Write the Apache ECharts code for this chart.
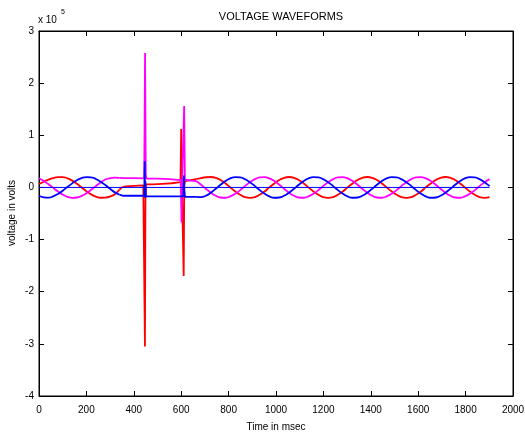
<!DOCTYPE html>
<html>
<head>
<meta charset="utf-8">
<script src="https://cdn.jsdelivr.net/npm/echarts@6/dist/echarts.min.js"></script>
<style>
html,body{margin:0;padding:0;background:#fff;}
#chart{width:525px;height:435px;}
</style>
</head>
<body>
<div id="chart"></div>
<script>
// ---- data (voltage in units of 1e5 V, time in msec) ----
var xTicks = [0,200,400,600,800,1000,1200,1400,1600,1800,2000];
var yTicks = [-4,-3,-2,-1,0,1,2,3];

// pre-fault sinusoidal part
var tPre = [0,20,40,60,80,100,120,140,160,180,200,220,240,260,280,300,320,340];
var redPre = [0.065,0.11,0.15,0.18,0.197,0.198,0.175,0.13,0.069,-0.002,-0.072,-0.133,-0.177,-0.198,-0.195,-0.175,-0.13,-0.04];
var bluePre = [-0.16,-0.19,-0.197,-0.171,-0.125,-0.062,0.009,0.078,0.138,0.18,0.199,0.193,0.162,0.11,0.045,-0.027,-0.095,-0.14];
var magPre = [0.175,0.125,0.062,-0.009,-0.078,-0.138,-0.18,-0.199,-0.193,-0.162,-0.11,-0.045,0.027,0.095,0.151,0.18,0.188,0.185];

// fault / switching transients  [time, value]
var redFault = [[340,-0.04],[350,0.0],[365,0.02],[400,0.03],[440,0.04],[445,0.04],[447,-3.05],[449,-0.3],[451,0.06],[480,0.06],[520,0.07],[560,0.08],[597,0.1],[600,1.12],[603,0.05],[605,0.05],[610.5,-1.7],[613,0.05],[617,0.12],[640,0.14],[663,0.16]];
var blueFault = [[340,-0.14],[355,-0.16],[400,-0.16],[444,-0.16],[446,0.5],[447.5,-0.2],[449,0.12],[451,-0.17],[500,-0.17],[598,-0.17],[609,-0.17],[611.5,0.23],[613,-0.05],[616,-0.18],[640,-0.18],[663,-0.18]];
var magFault = [[340,0.185],[360,0.18],[400,0.178],[444,0.175],[447.5,2.58],[450.5,0.25],[453,0.17],[500,0.17],[550,0.16],[598,0.14],[600,0.14],[601.5,-0.67],[604,0.1],[612.5,1.56],[615.5,0.15],[620,0.14],[640,0.13],[663,0.122]];

// post-fault sinusoidal part
var tPost = [663,684,704,725,746,766,787,807,828,849,869,890,911,931,952,972,993,1014,1034,1055,1076,1096,1117,1137,1158,1179,1199,1220,1241,1261,1282,1302,1323,1344,1364,1385,1406,1426,1447,1467,1488,1509,1529,1550,1571,1591,1612,1632,1653,1674,1694,1715,1736,1756,1777,1797,1818,1839,1859,1880,1901];
var redPost = [0.16,0.18,0.195,
  0.2,0.185,0.141,0.077,0,-0.077,-0.141,-0.185,-0.2,-0.185,-0.141,-0.077,0,0.077,0.141,0.185,
  0.2,0.185,0.141,0.077,0,-0.077,-0.141,-0.185,-0.2,-0.185,-0.141,-0.077,0,0.077,0.141,0.185,
  0.2,0.185,0.141,0.077,0,-0.077,-0.141,-0.185,-0.2,-0.185,-0.141,-0.077,0,0.077,0.141,0.185,
  0.2,0.185,0.141,0.077,0,-0.077,-0.141,-0.185,-0.2,-0.185];
var bluePost = [-0.18,-0.185,-0.159,
  -0.1,-0.026,0.052,0.122,0.173,0.198,0.193,0.159,0.1,0.026,-0.052,-0.122,-0.173,-0.198,-0.193,-0.159,
  -0.1,-0.026,0.052,0.122,0.173,0.198,0.193,0.159,0.1,0.026,-0.052,-0.122,-0.173,-0.198,-0.193,-0.159,
  -0.1,-0.026,0.052,0.122,0.173,0.198,0.193,0.159,0.1,0.026,-0.052,-0.122,-0.173,-0.198,-0.193,-0.159,
  -0.1,-0.026,0.052,0.122,0.173,0.198,0.193,0.159,0.1,0.026];
var magPost = [0.122,0.052,-0.026,
  -0.1,-0.159,-0.193,-0.198,-0.173,-0.122,-0.052,0.026,0.1,0.159,0.193,0.198,0.173,0.122,0.052,-0.026,
  -0.1,-0.159,-0.193,-0.198,-0.173,-0.122,-0.052,0.026,0.1,0.159,0.193,0.198,0.173,0.122,0.052,-0.026,
  -0.1,-0.159,-0.193,-0.198,-0.173,-0.122,-0.052,0.026,0.1,0.159,0.193,0.198,0.173,0.122,0.052,-0.026,
  -0.1,-0.159,-0.193,-0.198,-0.173,-0.122,-0.052,0.026,0.1,0.159];

var zeroLine = [[0,0],[1901,0]];

var RED = '#ff0000', BLUE = '#0000ff', MAG = '#ff00ff';
var FONT = 'Liberation Sans, Arial, Helvetica, sans-serif';

function zip(t, v){ return t.map(function(x,i){ return [x, v[i]]; }); }
function line(data, color, smooth, w){
  return {type:'line', data:data, showSymbol:false, symbol:'none', smooth:smooth,
    lineStyle:{color:color, width:w||1.8}, itemStyle:{color:color}, silent:true, animation:false, clip:true};
}

var chart = echarts.init(document.getElementById('chart'), null, {renderer:'canvas'});
var axisCommon = {
  axisLine:{show:true, onZero:false, lineStyle:{color:'#000', width:1}},
  axisTick:{show:true, inside:true, length:5, lineStyle:{color:'#000', width:1}},
  splitLine:{show:false}
};
function plain(v){ return String(v); }
var series = [
  line(zip(tPre, redPre), RED, 0.5),
  line(redFault, RED, false),
  line(zip(tPost, redPost), RED, 0.5),
  line(zip(tPre, magPre), MAG, 0.5),
  line(magFault, MAG, false),
  line(zip(tPost, magPost), MAG, 0.5),
  line(zip(tPre, bluePre), BLUE, 0.5),
  line(blueFault, BLUE, false),
  line(zip(tPost, bluePost), BLUE, 0.5),
  line(zeroLine, BLUE, false, 1),
  {type:'line', xAxisIndex:1, yAxisIndex:1, data:[], silent:true, showSymbol:false}
];
chart.setOption({
  animation:false,
  backgroundColor:'#fff',
  title:{text:'VOLTAGE WAVEFORMS', left:276, top:6, textAlign:'center',
    textStyle:{fontSize:11, fontWeight:'normal', color:'#000', fontFamily:FONT}},
  grid:{left:39, right:12, top:31, bottom:39, containLabel:false, outerBoundsMode:'none',
    show:true, borderColor:'#000', borderWidth:1, backgroundColor:'transparent'},
  xAxis:[
    Object.assign({type:'value', min:xTicks[0], max:xTicks[xTicks.length-1], interval:200, position:'bottom',
      axisLabel:{color:'#000', fontSize:10, margin:9, fontFamily:FONT, formatter:plain, hideOverlap:false, showMaxLabel:true, showMinLabel:true},
      name:'Time in msec', nameLocation:'middle', nameGap:26,
      nameTextStyle:{color:'#000', fontSize:10, fontFamily:FONT}}, axisCommon),
    Object.assign({type:'value', min:xTicks[0], max:xTicks[xTicks.length-1], interval:200, position:'top',
      axisLabel:{show:false}}, axisCommon)
  ],
  yAxis:[
    Object.assign({type:'value', min:yTicks[0], max:yTicks[yTicks.length-1], interval:1, position:'left',
      axisLabel:{color:'#000', fontSize:10, margin:5, fontFamily:FONT, formatter:plain}}, axisCommon),
    Object.assign({type:'value', min:yTicks[0], max:yTicks[yTicks.length-1], interval:1, position:'right',
      axisLabel:{show:false}}, axisCommon)
  ],
  graphic:[
    {type:'text', x:12, y:213, rotation:Math.PI/2,
      style:{text:'voltage in volts', fill:'#000', font:'10px '+FONT, align:'center', verticalAlign:'middle'}},
    {type:'text', left:38, top:15, style:{text:'x 10', fill:'#000', font:'10px '+FONT}},
    {type:'text', left:61, top:9, style:{text:'5', fill:'#000', font:'7px '+FONT}}
  ],
  series:series
});
</script>
</body>
</html>
